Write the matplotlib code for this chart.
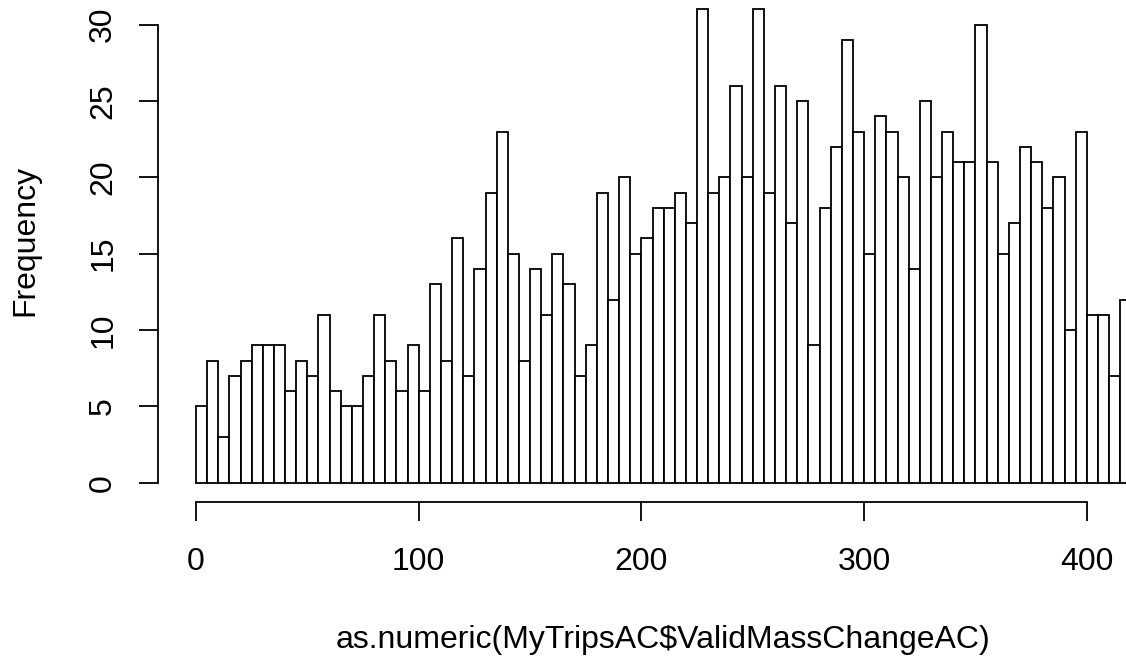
import numpy as np
import matplotlib
matplotlib.use('Agg')
import matplotlib.pyplot as plt

# histogram of mass change, bins of width 5 starting at 0
bin_width = 5
counts = [5, 8, 3, 7, 8, 9, 9, 9, 6, 8,
          7, 11, 6, 5, 5, 7, 11, 8, 6, 9,
          6, 13, 8, 16, 7, 14, 19, 23, 15, 8,
          14, 11, 15, 13, 7, 9, 19, 12, 20, 15,
          16, 18, 18, 19, 17, 31, 19, 20, 26, 20,
          31, 19, 26, 17, 25, 9, 18, 22, 29, 23,
          15, 24, 23, 20, 14, 25, 20, 23, 21, 21,
          30, 21, 15, 17, 22, 21, 18, 20, 10, 23,
          11, 11, 7, 12]
x_ticks = [0, 100, 200, 300, 400]
y_ticks = [0, 5, 10, 15, 20, 25, 30]

plt.rcParams['font.family'] = ['Liberation Sans', 'DejaVu Sans']

W, H = 1126, 656
fig = plt.figure(figsize=(W / 100, H / 100), dpi=100)

# plot region in pixels (R style layout)
left_px, right_px = 158, 1126
bottom_px, top_px = 501.7, -9.6
ax = fig.add_axes([left_px / W, 1 - bottom_px / H,
                   (right_px - left_px) / W, (bottom_px - top_px) / H])

edges = np.arange(len(counts)) * bin_width
ax.bar(edges, counts, width=bin_width, align='edge',
       facecolor='white', edgecolor='black', linewidth=1.3)

ax.set_xlim(-17.06, 417.6)
ax.set_ylim(-1.24, 32.24)

for side in ['top', 'right']:
    ax.spines[side].set_visible(False)
ax.spines['left'].set_bounds(0, 30)
ax.spines['bottom'].set_bounds(0, 400)
for side in ['left', 'bottom']:
    ax.spines[side].set_linewidth(1.3)

ax.set_xticks(x_ticks)
ax.set_xticklabels([str(v) for v in x_ticks])
ax.set_yticks(y_ticks)
ax.set_yticklabels([str(v) for v in y_ticks], rotation=90, va='center')
ax.tick_params(axis='both', direction='out', length=13.7, width=1.3,
               labelsize=23)
ax.tick_params(axis='x', pad=19)
ax.tick_params(axis='y', pad=15)

fig.text(663 / W, 1 - 640 / H, 'as.numeric(MyTripsAC\\$ValidMassChangeAC)',
         ha='center', va='center', fontsize=23)
fig.text(25 / W, 1 - 240 / H, 'Frequency', rotation=90,
         ha='center', va='center', fontsize=23)

fig.savefig('out.png', dpi=100)
